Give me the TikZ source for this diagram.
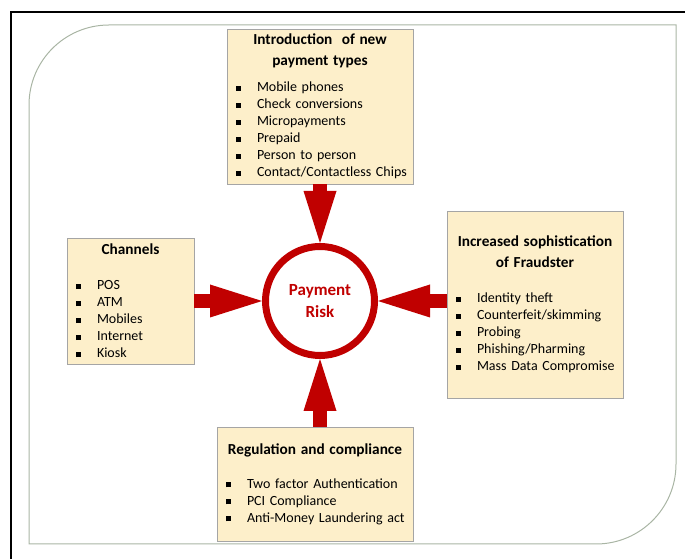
\documentclass[tikz,border=0pt]{standalone}
\usepackage{fontspec}
\setmainfont{Carlito}
\usetikzlibrary{arrows.meta}
\definecolor{riskred}{HTML}{C00000}
\definecolor{boxfill}{HTML}{FDEFCA}
\definecolor{boxline}{HTML}{A5A5A5}
\definecolor{panel}{HTML}{A9B5A4}
\newcommand\btitle[1]{{\fontsize{15.3}{17}\selectfont\bfseries #1}}
\newcommand\bitem[1]{\makebox[\linewidth][l]{\hspace*{8.5pt}\rule[0.8pt]{5pt}{5pt}\hspace{16.5pt}#1}}

\begin{document}
\begin{tikzpicture}[
    x=1pt, y=1pt,
    infobox/.style={draw=boxline, fill=boxfill, line width=0.8pt, inner sep=0pt, align=center, font=\fontsize{14}{17}\selectfont},
    risk/.style={circle, draw=riskred, line width=7pt, minimum size=109pt, inner sep=0pt, align=center, text=riskred, font=\fontsize{17}{22}\selectfont\bfseries},
    arr/.style={draw=riskred, line width=14pt, -{Triangle[length=52pt,width=33pt,line width=0pt]}}
]
\useasboundingbox (0,0) rectangle (685,559);

% frame and panel
\draw[line width=2pt] (11,0) -- (11,547) -- (685,547);
\draw[panel, line width=1pt] (29,15) -- (29,454) arc[start angle=180, end angle=90, radius=80] -- (676,534) -- (676,95) arc[start angle=0, end angle=-90, radius=80] -- cycle;

\node[risk] (risk) at (320,258) {Payment\\Risk};

\node[infobox, text width=186pt, minimum height=155pt] (intro) at (320,452.5) {\btitle{Introduction\ \ of new}\\[4pt]\btitle{payment types}\\[9pt]
  \bitem{Mobile phones}\\\bitem{Check conversions}\\\bitem{Micropayments}\\\bitem{Prepaid}\\\bitem{Person to person}\\\bitem{Contact/Contactless Chips}};
\node[infobox, text width=127pt, minimum height=126pt] (chan) at (130.5,258) {\btitle{Channels}\\[18pt]
  \bitem{POS}\\\bitem{ATM}\\\bitem{Mobiles}\\\bitem{Internet}\\\bitem{Kiosk}};
\node[infobox, text width=176pt, minimum height=187pt] (fraud) at (535,254.5) {\btitle{Increased sophistication}\\[4pt]\btitle{of Fraudster}\\[18pt]
  \bitem{Identity theft}\\\bitem{Counterfeit/skimming}\\\bitem{Probing}\\\bitem{Phishing/Pharming}\\\bitem{Mass Data Compromise}};
\node[infobox, text width=196pt, minimum height=114pt] (reg) at (315,75) {\btitle{Regulation and compliance}\\[17pt]
  \bitem{Two factor Authentication}\\\bitem{PCI Compliance}\\\bitem{Anti-Money Laundering act}};

\draw[arr] (intro) -- (risk);
\draw[arr] (chan) -- (risk);
\draw[arr] (fraud.west |- risk) -- (risk.east);
\draw[arr] (reg.north -| risk) -- (risk.south);
\end{tikzpicture}
\end{document}
